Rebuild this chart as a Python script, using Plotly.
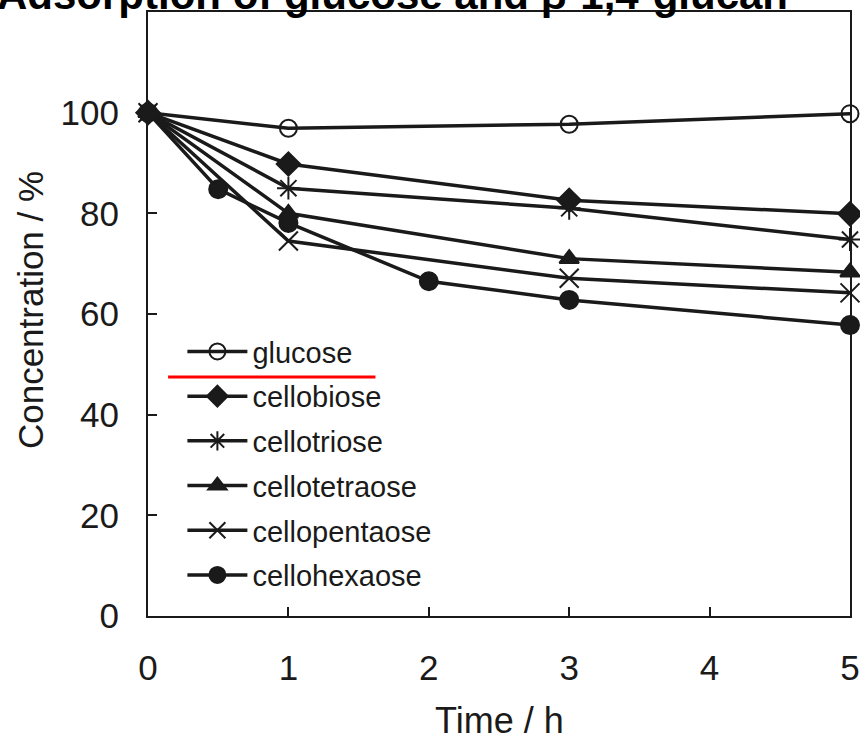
import plotly.graph_objects as go

# ---- data ----
series_names = ["glucose", "cellobiose", "cellotriose", "cellotetraose", "cellopentaose", "cellohexaose"]
time_glucose = [0, 1, 3, 5]
conc_glucose = [100, 96.9, 97.7, 99.8]
time_cellobiose = [0, 1, 3, 5]
conc_cellobiose = [100, 89.8, 82.6, 79.9]
time_cellotriose = [0, 1, 3, 5]
conc_cellotriose = [100, 85.0, 81.0, 74.8]
time_cellotetraose = [0, 1, 3, 5]
conc_cellotetraose = [100, 80.0, 71.0, 68.3]
time_cellopentaose = [0, 1, 3, 5]
conc_cellopentaose = [100, 74.5, 67.1, 64.2]
time_cellohexaose = [0, 0.5, 1, 2, 3, 5]
conc_cellohexaose = [100, 84.8, 78.1, 66.5, 62.8, 57.8]

x_ticks = [0, 1, 2, 3, 4, 5]
y_ticks = [0, 20, 40, 60, 80, 100]

times = [time_glucose, time_cellobiose, time_cellotriose, time_cellotetraose, time_cellopentaose, time_cellohexaose]
concs = [conc_glucose, conc_cellobiose, conc_cellotriose, conc_cellotetraose, conc_cellopentaose, conc_cellohexaose]
symbols = ["circle-open", "diamond", "asterisk-open", "triangle-up", "x-thin-open", "circle"]
sizes = [17, 18, 19, 17, 19, 18]

INK = "#1a1a1a"
FONT = "Liberation Sans, Arial, sans-serif"

fig = go.Figure()
for name, t, c, sym, sz in zip(series_names, times, concs, symbols, sizes):
    fig.add_trace(go.Scatter(
        x=t, y=c, name=name, mode="lines+markers",
        legendgroup=name,
        line=dict(color=INK, width=3.5),
        marker=dict(symbol=sym, size=sz, color=INK, line=dict(color=INK, width=2)),
        cliponaxis=False,
    ))

fig.update_layout(
    width=860, height=734,
    margin=dict(l=148, r=10, t=12, b=118),
    paper_bgcolor="white", plot_bgcolor="white",
    font=dict(family=FONT, color=INK),
    showlegend=True,
    legend=dict(x=0.049, y=0.480, xanchor="left", yanchor="top",
                bgcolor="rgba(0,0,0,0)", borderwidth=0,
                font=dict(size=29, family=FONT, color=INK),
                tracegroupgap=4, itemwidth=60, traceorder="grouped"),
    xaxis=dict(range=[0, 5], tickvals=x_ticks, ticktext=[str(v) for v in x_ticks],
               ticks="inside", ticklen=9, tickwidth=2, tickcolor=INK,
               showline=True, linewidth=2, linecolor=INK, mirror=True,
               showgrid=False, zeroline=False, automargin=False,
               ticklabelstandoff=20,
               tickfont=dict(size=35, family=FONT, color=INK)),
    yaxis=dict(range=[0, 120], tickvals=y_ticks, ticktext=[str(v) for v in y_ticks],
               ticks="inside", ticklen=9, tickwidth=2, tickcolor=INK,
               showline=True, linewidth=2, linecolor=INK, mirror=True,
               showgrid=False, zeroline=False, automargin=False,
               ticklabelstandoff=20,
               tickfont=dict(size=35, family=FONT, color=INK)),
    annotations=[
        dict(text="<b>Adsorption of glucose and β-1,4-glucan</b>",
             xref="paper", yref="paper", x=0.3486, y=1.0298,
             xanchor="center", yanchor="middle", showarrow=False,
             font=dict(size=42, family=FONT, color="black")),
        dict(text="Time / h", xref="paper", yref="paper", x=0.501, y=-0.1738,
             xanchor="center", yanchor="middle", showarrow=False,
             font=dict(size=36, family=FONT, color=INK)),
        dict(text="Concentration / %", xref="paper", yref="paper", x=-0.168, y=0.5066,
             xanchor="center", yanchor="middle", showarrow=False, textangle=-90,
             font=dict(size=35, family=FONT, color=INK)),
    ],
    shapes=[dict(type="line", xref="x", yref="y", x0=0.143, x1=1.62, y0=47.5, y1=47.5,
                 line=dict(color="#ff0000", width=3))],
)

fig.write_html("out.html")
